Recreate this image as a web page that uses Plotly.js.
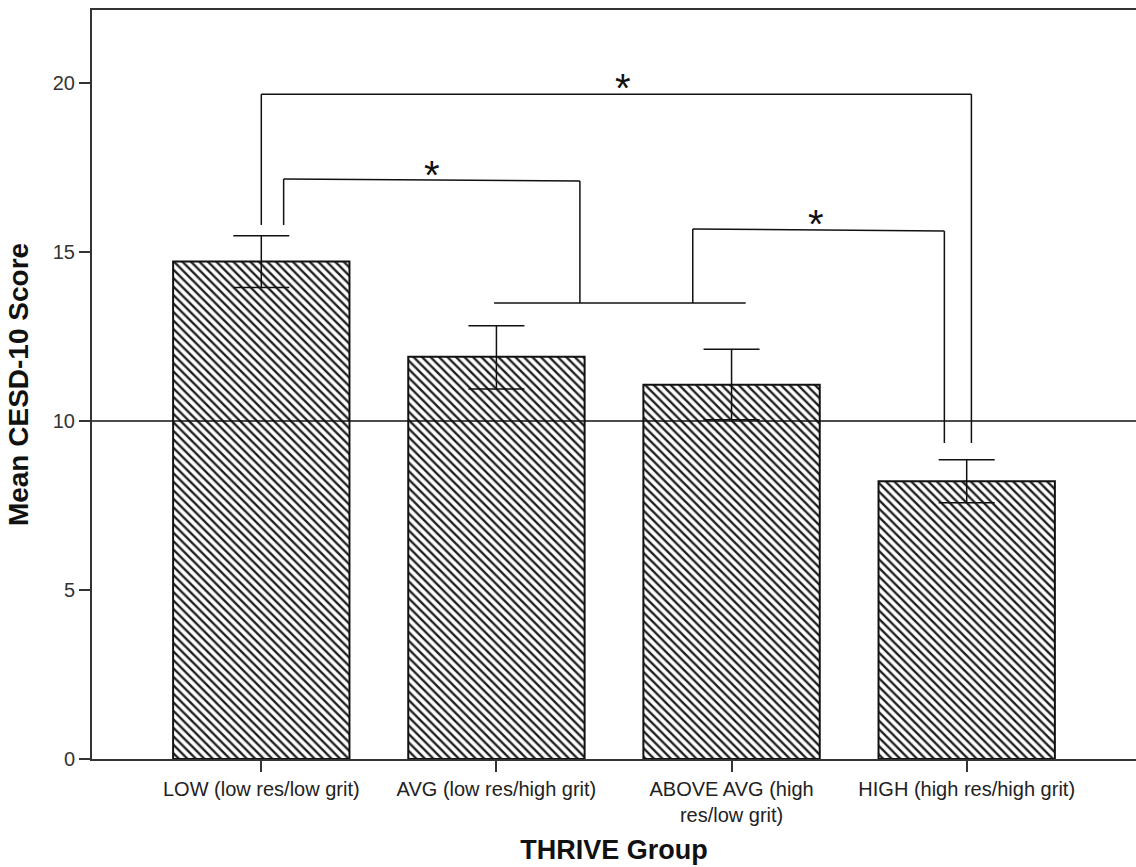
<!DOCTYPE html>
<html>
<head>
<meta charset="utf-8">
<script src="https://cdn.plot.ly/plotly-3.0.1.min.js"></script>
<style>html,body{margin:0;padding:0;background:#fff;}#chart{width:1136px;height:867px;}</style>
</head>
<body>
<div id="chart"></div>
<script>
// ---- data ----
const categories = ["LOW (low res/low grit)", "AVG (low res/high grit)", "ABOVE AVG (high<br>res/low grit)", "HIGH (high res/high grit)"];
const meanScores = [14.72, 11.90, 11.07, 8.22];
const errUpper = [0.76, 0.92, 1.05, 0.63];
const errLower = [0.77, 0.95, 1.03, 0.64];
const yTickVals = [0, 5, 10, 15, 20];
const yTickText = ["0", "5", "10", "15", "20"];
const cutoffScore = 10;

// significance brackets (category index / score units)
const bracketPaths = [
  {x: [0.0, 0.0, 3.02, 3.02], y: [15.8, 19.67, 19.67, 9.35]},
  {x: [0.095, 0.095, 1.355, 1.355], y: [15.8, 17.16, 17.1, 13.49]},
  {x: [0.99, 2.06], y: [13.49, 13.49]},
  {x: [1.835, 1.835, 2.905, 2.905], y: [13.49, 15.68, 15.62, 9.35]}
];
const starX = [1.54, 0.728, 2.357];
const starY = [20.15, 17.57, 16.12];

const font = "Liberation Sans, Arial, sans-serif";

const shapes = [{
  type: "line", xref: "paper", yref: "y", x0: 0, x1: 1, y0: cutoffScore, y1: cutoffScore,
  line: {color: "#111", width: 1.5}, layer: "above"
}];
bracketPaths.forEach(b => {
  for (let i = 0; i < b.x.length - 1; i++) {
    shapes.push({type: "line", xref: "x", yref: "y",
      x0: b.x[i], x1: b.x[i + 1], y0: b.y[i], y1: b.y[i + 1],
      line: {color: "#111", width: 1.5}});
  }
});

const annotations = starX.map((x, i) => ({
  x: x, y: starY[i], xref: "x", yref: "y", text: "*", showarrow: false,
  font: {family: font, size: 40, color: "#111"}, yanchor: "middle", yshift: -10
}));

const trace = {
  type: "bar",
  x: categories,
  y: meanScores,
  width: 0.75,
  marker: {
    color: "white",
    line: {color: "#111", width: 2},
    pattern: {shape: "\\", fgcolor: "#222", bgcolor: "white", size: 6, solidity: 0.4, fillmode: "replace"}
  },
  error_y: {type: "data", symmetric: false, array: errUpper, arrayminus: errLower,
    color: "#111", thickness: 1.5, width: 28},
  hoverinfo: "x+y"
};

const layout = {
  width: 1136, height: 867,
  margin: {l: 92, r: 0, t: 10, b: 108},
  paper_bgcolor: "white", plot_bgcolor: "white",
  showlegend: false,
  font: {family: font, color: "#222"},
  xaxis: {
    type: "category",
    range: [-0.72, 3.72],
    showline: true, linecolor: "#333", linewidth: 2, mirror: true,
    ticks: "outside", ticklen: 11, tickcolor: "#333", tickwidth: 1.5,
    tickfont: {family: font, size: 20, color: "#222"},
    showgrid: false, zeroline: false,
    title: {text: "THRIVE Group", font: {family: font, size: 27, weight: "bold", color: "#111"}, standoff: 15}
  },
  yaxis: {
    range: [0, 22.16],
    tickvals: yTickVals, ticktext: yTickText,
    showline: true, linecolor: "#333", linewidth: 2,
    ticks: "outside", ticklen: 11, tickcolor: "#333", tickwidth: 1.5,
    tickfont: {family: font, size: 20, color: "#333"},
    showgrid: false, zeroline: false,
    title: {text: "Mean CESD-10 Score", font: {family: font, size: 28, weight: "bold", color: "#111"}, standoff: 16}
  },
  shapes: shapes,
  annotations: annotations
};

Plotly.newPlot("chart", [trace], layout, {displayModeBar: false, staticPlot: false});
</script>
</body>
</html>
